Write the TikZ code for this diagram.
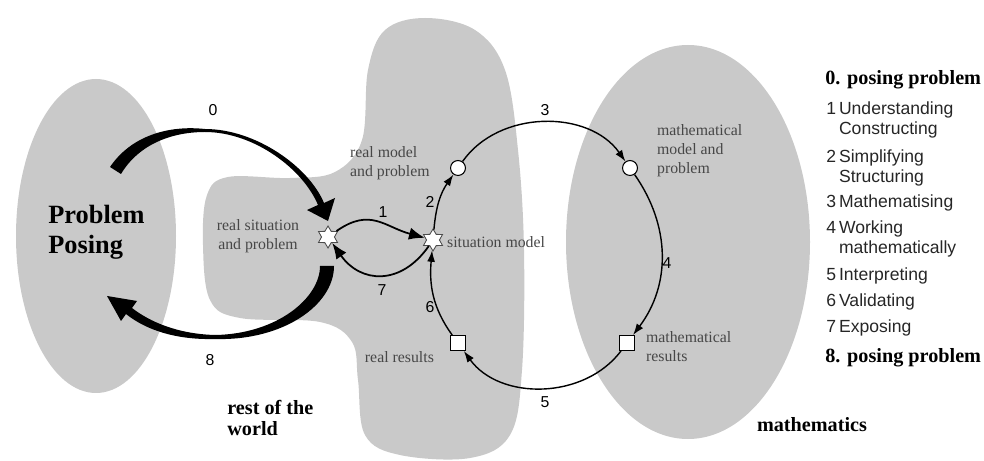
\documentclass[tikz,border=0pt]{standalone}
\usepackage{fontspec}
\setmainfont{Liberation Serif}
\setsansfont{Liberation Sans}
\usetikzlibrary{arrows.meta,shapes.geometric,positioning}

\begin{document}
\begin{tikzpicture}[
  x=0.02cm, y=0.02cm,
  region/.style={fill=black!21, draw=none},
  lbl/.style={font=\fontsize{9}{10.8}\selectfont, text=black!72, align=left, inner sep=1pt},
  num/.style={font=\sffamily\fontsize{9}{10}\selectfont, inner sep=1pt},
  legendtext/.style={font=\sffamily\fontsize{10}{11.3}\selectfont, text=black!85, anchor=west, align=left, inner sep=0pt},
  titletext/.style={font=\bfseries\fontsize{11.5}{12.5}\selectfont, anchor=west, align=left, inner sep=0pt},
  modelarrow/.style={-{Latex[length=6.5pt,width=4.5pt]}, line width=0.8pt},
  tradearrow/.style={-{Latex[length=9pt,width=7pt]}, line width=1pt},
  fat/.style={fill=black, draw=none},
  starnode/.style={star, star points=6, star point ratio=1.7, minimum size=12.5pt, inner sep=0pt, fill=white, draw=black!70, line width=0.5pt},
  ring/.style={circle, minimum size=8.5pt, inner sep=0pt, fill=white, draw, line width=0.6pt},
  box/.style={rectangle, minimum size=8.5pt, inner sep=0pt, fill=white, draw, line width=0.6pt}
]
\useasboundingbox (0,0) rectangle (984,460);

% Regions
\fill[region] (96,224) ellipse [x radius=80, y radius=157];
\fill[region] (688,218) ellipse [x radius=122, y radius=197];
\fill[region] plot[smooth cycle, tension=0.6] coordinates {
  (203,215) (207,265) (228,283) (290,282) (335,288) (362,320) (368,390)
  (385,430) (425,442) (475,430) (505,390) (518,310) (524,210) (522,90)
  (510,25) (470,2) (400,5) (365,25) (358,80) (352,118) (320,138)
  (240,142) (210,160)};

% Region titles
\node[font=\bfseries\fontsize{15}{17}\selectfont, align=left, anchor=west, inner sep=0pt] (pp) at (48,228) {Problem\\Posing};
\node[titletext] (rw) at (227,42) {rest of the\\world};
\node[titletext, anchor=center] (ma) at (812,35) {mathematics};

% Stations
\node[starnode] (rs) at (328,223) {};
\node[starnode] (sm) at (433,220) {};
\node[ring] (rm) at (458,292) {};
\node[ring] (mm) at (630,292) {};
\node[box] (mr) at (627,117) {};
\node[box] (rr) at (458,117) {};

\node[lbl, align=center] (rstxt) at (258,224) {real situation\\and problem};
\node[lbl, anchor=west] (rmtxt) at (348,297) {real model\\and problem};
\node[lbl, anchor=west] (smtxt) at (445,218) {situation model};
\node[lbl, anchor=west] (mmtxt) at (655,309) {mathematical\\model and\\problem};
\node[lbl, anchor=west] (mrtxt) at (644,113) {mathematical\\results};
\node[lbl, anchor=east] (rrtxt) at (436,103) {real results};

% Modelling cycle
\draw[modelarrow] (sm) to[out=85, in=235] (rm);
\draw[modelarrow] (rm) to[out=55, in=125] (mm);
\draw[modelarrow] (mm) to[out=-55, in=53] (mr);
\draw[modelarrow] (mr) to[out=233, in=-54] (rr);
\draw[modelarrow] (rr) to[out=126, in=-95] (sm);
\draw[tradearrow] (rs) to[out=35, in=165, looseness=1.2] (sm);
\draw[tradearrow] (sm) to[out=-125, in=-55, looseness=1.3] (rs);

% Posing arrows
\fill[fat] (110,293) .. controls (131,324) and (168,335) .. (205,331)
  .. controls (256,331) and (309,293) .. (324,257) -- (335,262) -- (328,239)
  -- (307,250) -- (318,255) .. controls (303,291) and (254,328) .. (205,328)
  .. controls (172,328) and (139,316) .. (121,286) -- cycle;
\fill[fat] (320,194) .. controls (320,162) and (277,126) .. (215,125)
  .. controls (178,126) and (150,138) .. (132,152) -- (137,159) -- (107,164)
  -- (121,139) -- (126,146) .. controls (146,130) and (176,120) .. (215,121)
  .. controls (283,119) and (334,155) .. (334,194) -- cycle;

% Step numbers
\node[num] (n0) at (213,350) {0};
\node[num] (n1) at (383,248) {1};
\node[num] (n2) at (430,258) {2};
\node[num] (n3) at (545,350) {3};
\node[num] (n4) at (667,197) {4};
\node[num] (n5) at (545,58) {5};
\node[num] (n6) at (430,153) {6};
\node[num] (n7) at (382,170) {7};
\node[num] (n8) at (210,100) {8};

% Legend
\node[titletext] (leg0) at (825,380) {0. posing problem};
\node[legendtext] (leg1) at (826,340) {1\,Understanding\\\hphantom{1\,}Constructing};
\node[legendtext] (leg2) at (826,292) {2\,Simplifying\\\hphantom{2\,}Structuring};
\node[legendtext] (leg3) at (826,257) {3\,Mathematising};
\node[legendtext] (leg4) at (826,221) {4\,Working\\\hphantom{4\,}mathematically};
\node[legendtext] (leg5) at (826,184) {5\,Interpreting};
\node[legendtext] (leg6) at (826,158) {6\,Validating};
\node[legendtext] (leg7) at (826,132) {7\,Exposing};
\node[titletext] (leg8) at (825,102) {8. posing problem};

\end{tikzpicture}
\end{document}
